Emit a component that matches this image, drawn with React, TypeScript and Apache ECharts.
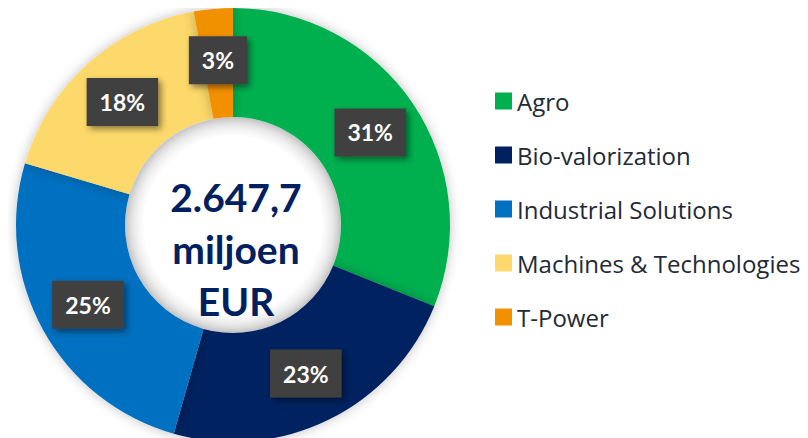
import React, { useEffect, useRef } from "react";
import * as echarts from "echarts";

const categories = ["Agro", "Bio-valorization", "Industrial Solutions", "Machines & Technologies", "T-Power"];
const shares = [31.1, 23.3, 25.2, 17.5, 2.9];
const colors = ["#00b050", "#002060", "#0070c0", "#fdd86a", "#f29100"];
const centerLines = ["2.647,7", "miljoen", "EUR"];

export default function App() {
  const ref = useRef<HTMLDivElement>(null);
  useEffect(() => {
    if (!ref.current) return;
    const chart = echarts.init(ref.current, null, { renderer: "svg" });
    chart.setOption({
      animation: false,
      backgroundColor: "#ffffff",
      legend: {
        orient: "vertical",
        left: 482,
        top: 76,
        icon: "rect",
        itemWidth: 17,
        itemHeight: 17,
        itemGap: 30,
        textStyle: { fontFamily: "Open Sans", fontSize: 24, lineHeight: 20, color: "#222a35" },
        data: categories,
      },
      graphic: [
        {
          type: "circle",
          shape: { cx: 225, cy: 217, r: 108 },
          style: {
            fill: {
              type: "radial",
              x: 0.5,
              y: 0.5,
              r: 0.5,
              colorStops: [
                { offset: 0, color: "#ffffff" },
                { offset: 0.82, color: "#ffffff" },
                { offset: 1, color: "#dedede" },
              ],
            },
          },
          z: 1,
        },
        {
          type: "text",
          x: 228,
          y: 241,
          z: 10,
          style: {
            text: centerLines.join("\n"),
            fontFamily: "Lato",
            fontWeight: "bold",
            fontSize: 39,
            lineHeight: 52,
            fill: "#002060",
            align: "center",
            verticalAlign: "middle",
          },
        },
      ],
      series: [
        {
          type: "pie",
          center: [225, 217],
          radius: [108, 217],
          startAngle: 90,
          clockwise: true,
          avoidLabelOverlap: false,
          z: 2,
          itemStyle: { shadowBlur: 12, shadowColor: "rgba(0,0,0,0.25)" },
          label: {
            show: true,
            position: "inside",
            formatter: (p: any) => Math.round(p.value) + "%",
            fontFamily: "Lato",
            fontWeight: "bold",
            fontSize: 23,
            color: "#ffffff",
            backgroundColor: "#404040",
            padding: [13, 13, 12, 13],
            shadowBlur: 6,
            shadowOffsetX: 3,
            shadowOffsetY: 3,
            shadowColor: "rgba(0,0,0,0.45)",
          },
          labelLine: { show: false },
          emphasis: { disabled: true },
          data: categories.map((c, i) => ({ name: c, value: shares[i], itemStyle: { color: colors[i] } })),
        },
      ],
    });
    return () => chart.dispose();
  }, []);
  return <div ref={ref} style={{ width: 808, height: 438 }} />;
}
